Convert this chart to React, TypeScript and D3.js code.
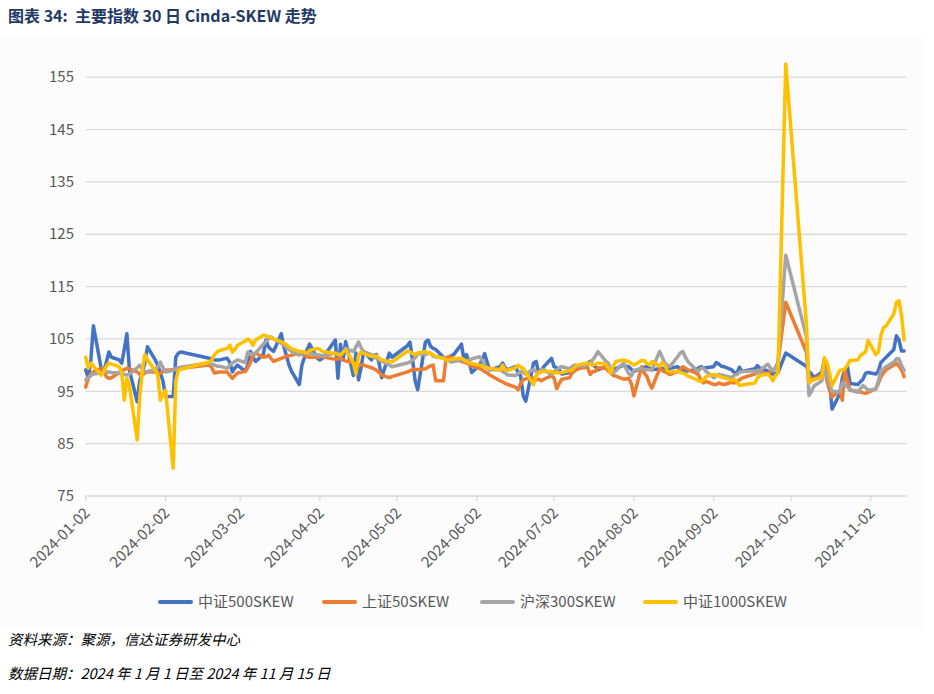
import React from 'react';
import * as d3 from 'd3';

// trading days 2024 (MM-DD)
const tradeDays = [
  '01-02', '01-03', '01-04', '01-05', '01-08', '01-09', '01-10', '01-11', '01-12', '01-15', '01-16',
  '01-17', '01-18', '01-19', '01-22', '01-23', '01-24', '01-25', '01-26', '01-29', '01-30', '01-31',
  '02-01', '02-02', '02-05', '02-06', '02-07', '02-08', '02-19', '02-20', '02-21', '02-22', '02-23',
  '02-26', '02-27', '02-28', '02-29',
  '03-01', '03-04', '03-05', '03-06', '03-07', '03-08', '03-11', '03-12', '03-13', '03-14', '03-15',
  '03-18', '03-19', '03-20', '03-21', '03-22', '03-25', '03-26', '03-27', '03-28', '03-29',
  '04-01', '04-02', '04-03', '04-08', '04-09', '04-10', '04-11', '04-12', '04-15', '04-16', '04-17',
  '04-18', '04-19', '04-22', '04-23', '04-24', '04-25', '04-26', '04-29', '04-30',
  '05-06', '05-07', '05-08', '05-09', '05-10', '05-13', '05-14', '05-15', '05-16', '05-17', '05-20',
  '05-21', '05-22', '05-23', '05-24', '05-27', '05-28', '05-29', '05-30', '05-31',
  '06-03', '06-04', '06-05', '06-06', '06-07', '06-11', '06-12', '06-13', '06-14', '06-17', '06-18',
  '06-19', '06-20', '06-21', '06-24', '06-25', '06-26', '06-27', '06-28',
  '07-01', '07-02', '07-03', '07-04', '07-05', '07-08', '07-09', '07-10', '07-11', '07-12', '07-15',
  '07-16', '07-17', '07-18', '07-19', '07-22', '07-23', '07-24', '07-25', '07-26', '07-29', '07-30', '07-31',
  '08-01', '08-02', '08-05', '08-06', '08-07', '08-08', '08-09', '08-12', '08-13', '08-14', '08-15',
  '08-16', '08-19', '08-20', '08-21', '08-22', '08-23', '08-26', '08-27', '08-28', '08-29', '08-30',
  '09-02', '09-03', '09-04', '09-05', '09-06', '09-09', '09-10', '09-11', '09-12', '09-13', '09-18',
  '09-19', '09-20', '09-23', '09-24', '09-25', '09-26', '09-27', '09-30',
  '10-08', '10-09', '10-10', '10-11', '10-14', '10-15', '10-16', '10-17', '10-18', '10-21', '10-22',
  '10-23', '10-24', '10-25', '10-28', '10-29', '10-30', '10-31',
  '11-01', '11-04', '11-05', '11-06', '11-07', '11-08', '11-11', '11-12', '11-13', '11-14', '11-15',
];

// 中证500SKEW
const csi500 = [
  99.1, 97.5, 101, 107.5, 99.4, 98.7, 100.5, 102.5, 101.5, 101, 100.4, 103, 106, 99, 93, 97, 98.5, 100.5, 103.5, 101, 100, 98.5,
  97, 94, 94, 101.5, 102.3, 102.5, 101.3, 101.2, 101, 101, 101, 101.3, 100.5, 98.7, 99.5,
  100, 98.8, 100, 102.6, 101.5, 100.7, 102, 104.8, 103.5, 103, 102.6, 106, 103.5, 101.8, 100, 98.8, 96.3, 100, 101.5, 102.9, 104,
  101.3, 101, 101.3, 104.8, 97.5, 104, 101, 104.5, 98, 102.3, 97.2, 99.5, 102.6, 101, 101.8, 102, 100.4, 97.6, 102.3, 101.5,
  103.7, 104.4, 101, 97, 95.3, 104.4, 104.8, 103.6, 103.2, 103, 101.5, 100.9, 101, 101.8, 102, 104, 101, 102, 100.5, 98.6,
  100, 101, 102.2, 100.5, 99.1, 99.7, 100.4, 99.5, 99.1, 99.7, 98.6, 97.9, 94.1, 93.1, 100.4, 100.7, 98.5, 98.8, 99.7,
  101.3, 99.7, 99.5, 99.1, 98.3, 98.6, 98.8, 99.4, 99.6, 99.7, 100.3, 100.7, 100, 99.7, 99.1, 99.7, 99.4, 99.1, 99.4, 99.3, 100, 99.8, 99.7,
  99.2, 98.8, 99.4, 99.6, 99.7, 99.4, 99.1, 99.3, 99.4, 99.2, 99.1, 99.4, 99.7, 99.3, 99.1, 98.8, 98.9, 99.1, 99.4, 99.7, 99.5, 99.5,
  99.7, 100.5, 100.2, 99.8, 99.7, 99.1, 98.6, 98.4, 99.6, 98.8, 99.3, 99.9, 99.4, 98.9, 98.3, 98.3, 98.4, 98.6, 102.3,
  99.8, 98.8, 98.3, 97.6, 98.6, 101.1, 98.5, 97, 91.6, 94.5, 97.6, 99, 99.7, 96.5, 96.3, 96.8, 97.3, 98.4,
  98.6, 98.3, 98.9, 100.5, 101, 101.5, 103, 105.6, 104.8, 102.7, 102.7,
];

// 上证50SKEW
const sse50 = [
  95.8, 97.5, 98.3, 98.7, 99.4, 99.1, 97.8, 97.5, 97.6, 98.6, 99, 99.1, 99.4, 99.3, 98.7, 98.3, 98.1, 98.5, 98.7, 98.7, 98.5, 98.5,
  98.8, 99, 99.1, 99.1, 99.2, 99.4, 100, 99.5, 98.5, 98.6, 98.7, 98.7, 98, 97.5, 98,
  98.5, 98.8, 99.5, 100.5, 101.8, 102.3, 101.5, 101.6, 101.9, 101.3, 100.7, 101.3, 101.5, 101.7, 101.8, 101.9, 102.3, 102.1, 101.9, 101.6, 101.5,
  101.5, 101.6, 101.6, 101.1, 101.2, 101.3, 101, 100.8, 100.4, 100.2, 100.1, 100, 100, 99.5, 99.3, 99, 98.6, 98.1, 97.6, 97.8,
  98.7, 98.9, 99.2, 99.2, 99.1, 99.3, 99.6, 99.9, 100, 97, 97, 101.4, 101.6, 101.5, 101.2, 100.7, 100.6, 100.4, 100.2, 99.8,
  99.4, 99.1, 98.8, 98.5, 98.1, 97, 96.8, 96.5, 96.3, 95.8, 95.3, 96.5, 97.2, 97.4, 97.5, 97.2, 97.3, 97, 97.3,
  98, 97.5, 95.5, 96.5, 97.3, 97.6, 98.5, 98.9, 99.2, 99.4, 99.6, 98.2, 98.8, 98.8, 99.5, 99.4, 98.9, 98.5, 98, 97.9, 97.3, 97.4, 97.5,
  96.5, 94.1, 99.7, 98.5, 97.9, 96.5, 95.6, 99.3, 99, 98.7, 98.5, 98.2, 98.8, 99.2, 99.7, 99.4, 99.1, 98.5, 98.2, 97.2, 96.6, 96.9,
  96.3, 96.3, 96.6, 96.4, 96.3, 96.7, 96.6, 96.8, 97.2, 97.5, 98.3, 98.9, 98.7, 98.2, 98.8, 98.9, 99.5, 100.5, 112,
  102.5, 97.8, 97.5, 97.2, 98.2, 100.5, 97, 95.2, 93.9, 95.2, 93.3, 99, 97, 95.2, 95, 94.9, 94.7, 94.6,
  94.8, 95.5, 96.5, 97.8, 98.5, 99.1, 100, 100.4, 99.8, 99.1, 97.8,
];

// 沪深300SKEW
const hs300 = [
  97.2, 97.6, 98, 98.3, 98.5, 98.6, 98.7, 98.7, 98.6, 98.5, 98.4, 98.2, 98.1, 98.3, 99.5, 100, 99.2, 98.7, 98.8, 99.1, 99.6, 100.6,
  99.5, 98.7, 99, 99.4, 99.5, 99.6, 100.4, 100.2, 100, 99.8, 99.8, 99.4, 100, 100.4, 100.7,
  101, 100.5, 102.5, 102, 102.2, 102.3, 104, 104.5, 105, 105.4, 105, 104.2, 103.8, 103.3, 103, 102.6, 101.9, 102.5, 102.2, 102.2, 102.2,
  102, 101.9, 101.7, 102.3, 102.2, 102, 102.5, 103.2, 102.6, 103.5, 104.4, 103.3, 102.6, 102, 101.6, 101.3, 101, 100.8, 100, 99.7,
  100.4, 100.6, 101, 101.4, 102.2, 102, 102.2, 102.3, 101.7, 101.6, 101.4, 101.1, 100.9, 100.6, 100.7, 101, 101, 100.8, 101, 101.2,
  101.6, 101, 100, 99.5, 99.1, 99.1, 98.8, 98.5, 98.1, 98, 98.4, 98.8, 98.6, 98.3, 99.2, 98.8, 98.5, 99.2, 99.1,
  98.2, 98.7, 99.1, 99.5, 99.7, 99.3, 99.7, 100, 99.9, 99.7, 100.1, 100.4, 101, 101.7, 102.6, 100.8, 100.4, 99.4, 98.5, 98.9, 100.4, 99.3, 98.4,
  97.9, 99, 99.4, 99.2, 99.1, 99.1, 99.1, 102.6, 101.5, 100.4, 100, 99.7, 101.6, 102.3, 102.6, 101.5, 100.7, 99.2, 98.8, 99.4, 99.5, 98.8,
  97.6, 97.9, 98.2, 98.1, 98, 97.6, 98.1, 98.2, 98.6, 98.8, 98.9, 98.4, 99, 100.2, 99.5, 99, 99.4, 100.5, 121,
  105.5, 94.2, 95, 96, 97, 99.2, 98, 96.5, 95, 94.8, 96.7, 96.3, 95.8, 95.3, 94.8, 95.5, 96.1, 95.7,
  95.2, 95.4, 97, 99, 99.3, 99.7, 100.6, 101.2, 101.2, 99.9, 99,
];

// 中证1000SKEW
const csi1000 = [
  101.5, 99.4, 100.4, 99.8, 98.1, 98.8, 99.8, 100.4, 100.2, 99.7, 98.5, 93.3, 97.5, 96, 85.7, 94, 99, 102, 101, 99, 98.1, 93.3,
  94.5, 95.2, 80.3, 97, 99, 99.2, 100.6, 101, 102, 102.5, 102.8, 103.2, 103.8, 102.5, 103,
  103.8, 104.6, 105, 104.6, 103.8, 104.8, 105.7, 105.6, 105.4, 105.3, 105, 104.5, 104.2, 103.9, 103.5, 103.1, 102.6, 102.6, 102.5, 102.3, 102.8,
  103.2, 103, 102.6, 102.2, 102, 101.9, 102.4, 102.9, 100.5, 98.3, 101.8, 102.5, 102.2, 101.7, 101.6, 101.8, 101.3, 101, 100.7, 100.6,
  102.7, 102.5, 102.2, 102, 102.3, 102.6, 102.3, 102.2, 102, 101.6, 101.3, 101, 101, 101.1, 101.2, 101.3, 101, 100.7, 100.4, 100.3,
  100, 99.8, 99.6, 99.5, 99.4, 99.1, 100, 99.1, 99, 99.5, 100, 99.6, 99.4, 98.6, 96.3, 98, 98.5, 98.8, 98.8,
  98.8, 98.5, 98.6, 98.5, 98.6, 98.9, 99.1, 99.6, 100, 100.1, 100.4, 100.2, 100, 100.2, 100.4, 100.2, 99.4, 98.5, 99.8, 100.7, 101, 100.8, 100.7,
  100.3, 100, 100.9, 100.9, 100.3, 100, 100.7, 99.8, 100.5, 100, 98.9, 98.7, 98.8, 98.6, 98.5, 98.3, 97.9, 97.3, 97, 96.9, 97.2, 97.8,
  98.2, 98.1, 97.9, 97.7, 97.6, 97.1, 97.3, 96.8, 96.1, 96.2, 96.6, 97.5, 98, 98.3, 97.8, 97, 98, 98.5, 157.5,
  108, 96.6, 97, 97.3, 97.6, 101.4, 100.5, 98.5, 96.1, 99, 99.1, 99.3, 100, 100.9, 101, 101.8, 102.2, 102.5,
  104.7, 102, 102.5, 105.7, 107.2, 107.5, 109.8, 112, 112.3, 109.5, 104.8,
];

const seriesNames = ['中证500SKEW', '上证50SKEW', '沪深300SKEW', '中证1000SKEW'];
const seriesColors = ['#4472C4', '#ED7D31', '#A5A5A5', '#FFC000'];
const yTicks = [75, 85, 95, 105, 115, 125, 135, 145, 155];
const xTickLabels = [
  '2024-01-02', '2024-02-02', '2024-03-02', '2024-04-02', '2024-05-02', '2024-06-02',
  '2024-07-02', '2024-08-02', '2024-09-02', '2024-10-02', '2024-11-02',
];

const W = 934;
const H = 694;
const FONT = '"Noto Sans CJK SC", "Noto Sans", sans-serif';

const parseDay = (s: string) => {
  const [m, d] = s.split('-').map(Number);
  return new Date(2024, m - 1, d);
};

export default function App() {
  const dates = tradeDays.map(parseDay);
  const allSeries = [csi500, sse50, hs300, csi1000];

  const x = d3.scaleTime()
    .domain([new Date(2024, 0, 2), new Date(2024, 10, 16)])
    .range([85.7, 906.7]);
  const y = d3.scaleLinear().domain([75, 160]).range([496, 51]);

  const line = d3.line<number>()
    .x((_, i) => x(dates[i]))
    .y(v => y(v));

  const legendX = [158, 322, 480, 643];

  return (
    <svg width={W} height={H} style={{ position: 'absolute', left: 0, top: 0 }} fontFamily={FONT}>
      <rect x={0} y={0} width={W} height={H} fill="#ffffff" />
      <rect x={0} y={36} width={925} height={591} fill="#fcfcfc" />

      <text x={8} y={22} fontSize={16} fontWeight="bold" fill="#1F3864" style={{ whiteSpace: 'pre' }}>
        {'图表 34:  主要指数 30 日 Cinda-SKEW 走势'}
      </text>

      {/* gridlines + y labels */}
      {yTicks.map(t => (
        <g key={t}>
          <line x1={85.7} x2={906.7} y1={y(t)} y2={y(t)} stroke="#D9D9D9" strokeWidth={1.3} />
          <text x={74} y={y(t)} dy="0.35em" textAnchor="end" fontSize={15} fill="#595959">{t}</text>
        </g>
      ))}

      {/* x ticks and labels */}
      {xTickLabels.map(lbl => {
        const tx = x(new Date(lbl + 'T00:00:00'));
        return (
          <g key={lbl}>
            <line x1={tx} x2={tx} y1={496} y2={501} stroke="#D9D9D9" strokeWidth={1.3} />
            <text
              transform={`translate(${tx + 5},${514}) rotate(-45)`}
              textAnchor="end"
              fontSize={15}
              fill="#595959"
            >
              {lbl}
            </text>
          </g>
        );
      })}

      {/* series */}
      {allSeries.map((s, i) => (
        <path
          key={seriesNames[i]}
          d={line(s) || ''}
          fill="none"
          stroke={seriesColors[i]}
          strokeWidth={3.5}
          strokeLinejoin="round"
          strokeLinecap="round"
        />
      ))}

      {/* legend */}
      {seriesNames.map((name, i) => (
        <g key={name} transform={`translate(${legendX[i]},602)`}>
          <line x1={2} x2={33} y1={0} y2={0} stroke={seriesColors[i]} strokeWidth={4} strokeLinecap="round" />
          <text x={40} y={0} dy="0.35em" fontSize={15} fill="#595959">{name}</text>
        </g>
      ))}

      <text x={8} y={645} fontSize={14.5} fontStyle="italic" fill="#000">
        资料来源：聚源，信达证券研发中心
      </text>
      <text x={8} y={679} fontSize={14.5} fontStyle="italic" fill="#000">
        数据日期：2024 年 1 月 1 日至 2024 年 11 月 15 日
      </text>
    </svg>
  );
}
